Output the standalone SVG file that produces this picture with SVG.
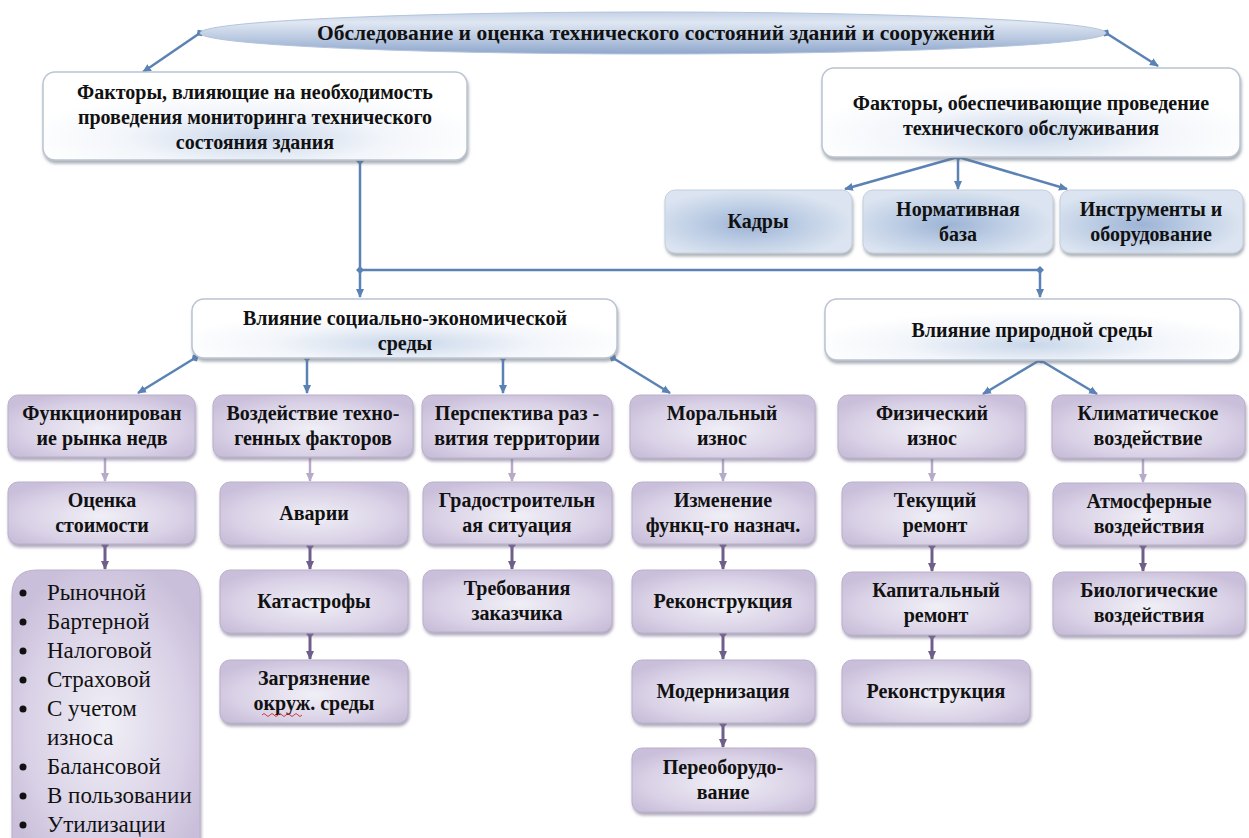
<svg xmlns="http://www.w3.org/2000/svg" width="1249" height="838" viewBox="0 0 1249 838">
<style>
  text{font-family:"Liberation Serif","Times New Roman",serif;font-weight:bold;font-size:20px;fill:#111;text-anchor:middle}
  .li{font-weight:normal;font-size:23px;text-anchor:start}
  .w{fill:url(#gw);stroke:#b9c3d2;stroke-width:1.5;filter:url(#sh)}
  .b{fill:url(#gb);stroke:#c4cfdd;stroke-width:1;filter:url(#sh)}
  .p{fill:url(#gp);stroke:#b9b0c9;stroke-width:1;filter:url(#shp)}
  .cb{fill:none;stroke:#5a82b4;stroke-width:2.5}
  .cl{fill:none;stroke:#b7aac9;stroke-width:2.5}
  .cd{fill:none;stroke:#6e5e8a;stroke-width:3}
</style>
<defs>
  <radialGradient id="gw" cx="0.5" cy="0.75" r="0.55">
    <stop offset="0" stop-color="#c9d7ea"/>
    <stop offset="0.55" stop-color="#f2f5fa"/>
    <stop offset="1" stop-color="#ffffff"/>
  </radialGradient>
  <radialGradient id="gb" cx="0.45" cy="0.55" r="0.55">
    <stop offset="0" stop-color="#9db4d6"/>
    <stop offset="0.6" stop-color="#c3d2e7"/>
    <stop offset="1" stop-color="#dbe4f0"/>
  </radialGradient>
  <radialGradient id="gp" cx="0.5" cy="0.55" r="0.6">
    <stop offset="0" stop-color="#f0eff6"/>
    <stop offset="0.7" stop-color="#d9d1e6"/>
    <stop offset="1" stop-color="#c9bfda"/>
  </radialGradient>
  <linearGradient id="ge" x1="0" y1="0" x2="0" y2="1">
    <stop offset="0" stop-color="#c4d2e6"/>
    <stop offset="0.25" stop-color="#dfe7f2"/>
    <stop offset="0.6" stop-color="#bccbe2"/>
    <stop offset="1" stop-color="#8fa7cc"/>
  </linearGradient>
  <filter id="sh" x="-10%" y="-20%" width="120%" height="150%">
    <feDropShadow dx="1" dy="3" stdDeviation="1.5" flood-color="#6b7280" flood-opacity="0.55"/>
  </filter>
  <filter id="shp" x="-10%" y="-20%" width="120%" height="150%">
    <feDropShadow dx="1" dy="3" stdDeviation="1.5" flood-color="#7a7190" flood-opacity="0.6"/>
  </filter>
  <marker id="ab" markerWidth="10" markerHeight="10" refX="8" refY="5" orient="auto" markerUnits="userSpaceOnUse">
    <path d="M0,1 L9,5 L0,9 z" fill="#5a82b4"/>
  </marker>
  <marker id="db" markerWidth="8" markerHeight="8" refX="4" refY="4" orient="auto" markerUnits="userSpaceOnUse">
    <path d="M0,4 L4,0 L8,4 L4,8 z" fill="#5a82b4"/>
  </marker>
  <marker id="al" markerWidth="10" markerHeight="10" refX="8" refY="5" orient="auto" markerUnits="userSpaceOnUse">
    <path d="M0,1 L9,5 L0,9 z" fill="#b7aac9"/>
  </marker>
  <marker id="ad" markerWidth="10" markerHeight="10" refX="8" refY="5" orient="auto" markerUnits="userSpaceOnUse">
    <path d="M0,1 L9,5 L0,9 z" fill="#6e5e8a"/>
  </marker>
  <marker id="dd" markerWidth="8" markerHeight="8" refX="4" refY="4" orient="auto" markerUnits="userSpaceOnUse">
    <path d="M0,4 L4,0 L8,4 L4,8 z" fill="#6e5e8a"/>
  </marker>
</defs>

<g id="connectors">
  <path class="cb" d="M200,33 L143,72" marker-start="url(#db)" marker-end="url(#ab)"/>
  <path class="cb" d="M1106,33 L1158,66" marker-start="url(#db)" marker-end="url(#ab)"/>
  <path class="cb" d="M958,157 L845,189" marker-start="url(#db)" marker-end="url(#ab)"/>
  <path class="cb" d="M958,157 L958,189" marker-end="url(#ab)"/>
  <path class="cb" d="M958,157 L1067,189" marker-end="url(#ab)"/>
  <path class="cb" d="M360,161 L360,270 L1040,270" marker-start="url(#db)"/>
  <path class="cb" d="M360,270 L360,297" marker-start="url(#db)" marker-end="url(#ab)"/>
  <path class="cb" d="M1040,270 L1040,297" marker-start="url(#db)" marker-end="url(#ab)"/>
  <path class="cb" d="M195,358 L138,393" marker-start="url(#db)" marker-end="url(#ab)"/>
  <path class="cb" d="M307,358 L307,393" marker-start="url(#db)" marker-end="url(#ab)"/>
  <path class="cb" d="M503,358 L503,393" marker-start="url(#db)" marker-end="url(#ab)"/>
  <path class="cb" d="M613,358 L670,393" marker-start="url(#db)" marker-end="url(#ab)"/>
  <path class="cb" d="M1040,360 L983,394" marker-start="url(#db)" marker-end="url(#ab)"/>
  <path class="cb" d="M1040,360 L1097,394" marker-end="url(#ab)"/>

  <path class="cl" d="M105,458 L105,481" marker-end="url(#al)"/>
  <path class="cl" d="M310,458 L310,481" marker-end="url(#al)"/>
  <path class="cl" d="M512,459 L512,481" marker-end="url(#al)"/>
  <path class="cl" d="M723,459 L723,481" marker-end="url(#al)"/>
  <path class="cl" d="M932,459 L932,481" marker-end="url(#al)"/>
  <path class="cl" d="M1143,459 L1143,482" marker-end="url(#al)"/>

  <path class="cd" d="M105,545 L105,569" marker-start="url(#dd)" marker-end="url(#ad)"/>
  <path class="cd" d="M310,546 L310,569" marker-start="url(#dd)" marker-end="url(#ad)"/>
  <path class="cd" d="M310,634 L310,659" marker-start="url(#dd)" marker-end="url(#ad)"/>
  <path class="cd" d="M512,545 L512,569" marker-start="url(#dd)" marker-end="url(#ad)"/>
  <path class="cd" d="M723,545 L723,569" marker-start="url(#dd)" marker-end="url(#ad)"/>
  <path class="cd" d="M723,634 L723,659" marker-start="url(#dd)" marker-end="url(#ad)"/>
  <path class="cd" d="M723,724 L723,747" marker-start="url(#dd)" marker-end="url(#ad)"/>
  <path class="cd" d="M932,546 L932,571" marker-start="url(#dd)" marker-end="url(#ad)"/>
  <path class="cd" d="M932,636 L932,659" marker-start="url(#dd)" marker-end="url(#ad)"/>
  <path class="cd" d="M1143,546 L1143,571" marker-start="url(#dd)" marker-end="url(#ad)"/>
</g>

<g id="title">
  <ellipse cx="653" cy="33" rx="453" ry="21" fill="url(#ge)" stroke="#b4c4dc" stroke-width="1"/>
  <text x="656" y="40" font-size="22" textLength="678" lengthAdjust="spacingAndGlyphs">Обследование и оценка технического состояний зданий и сооружений</text>
</g>

<g id="factors-monitoring">
  <rect class="w" x="43" y="72" width="424" height="88" rx="12"/>
  <text x="255" y="99">Факторы, влияющие на необходимость</text>
  <text x="255" y="124">проведения мониторинга технического</text>
  <text x="255" y="149">состояния здания</text>
</g>

<g id="factors-service">
  <rect class="w" x="822" y="68" width="418" height="89" rx="12"/>
  <text x="1031" y="110">Факторы, обеспечивающие проведение</text>
  <text x="1031" y="135">технического обслуживания</text>
</g>

<g id="kadry">
  <rect class="b" x="665" y="190" width="187" height="63" rx="10"/>
  <text x="758" y="228">Кадры</text>
</g>
<g id="norm-baza">
  <rect class="b" x="863" y="190" width="190" height="63" rx="10"/>
  <text x="958" y="216">Нормативная</text>
  <text x="958" y="241">база</text>
</g>
<g id="instrumenty">
  <rect class="b" x="1060" y="190" width="183" height="63" rx="10"/>
  <text x="1151" y="216">Инструменты и</text>
  <text x="1151" y="241">оборудование</text>
</g>

<g id="soc-econ">
  <rect class="w" x="192" y="299" width="425" height="59" rx="12"/>
  <text x="405" y="325">Влияние социально-экономической</text>
  <text x="405" y="350">среды</text>
</g>
<g id="nature">
  <rect class="w" x="825" y="299" width="415" height="61" rx="12"/>
  <text x="1032" y="337">Влияние природной среды</text>
</g>

<!-- column 1 -->
<g id="rynok">
  <rect class="p" x="8" y="395" width="187" height="62" rx="10"/>
  <text x="102" y="420">Функционирован</text>
  <text x="102" y="445">ие рынка недв</text>
</g>
<g id="ocenka">
  <rect class="p" x="8" y="482" width="187" height="62" rx="10"/>
  <text x="102" y="507">Оценка</text>
  <text x="102" y="532">стоимости</text>
</g>
<g id="list">
  <path class="p" d="M12,595 Q12,570 37,570 L175,570 Q200,570 200,595 L200,850 L12,850 Z"/>
  <circle cx="23" cy="593" r="3.5" fill="#111"/>
  <text class="li" x="47" y="600">Рыночной</text>
  <circle cx="23" cy="622" r="3.5" fill="#111"/>
  <text class="li" x="47" y="629">Бартерной</text>
  <circle cx="23" cy="651" r="3.5" fill="#111"/>
  <text class="li" x="47" y="658">Налоговой</text>
  <circle cx="23" cy="680" r="3.5" fill="#111"/>
  <text class="li" x="47" y="687">Страховой</text>
  <circle cx="23" cy="709" r="3.5" fill="#111"/>
  <text class="li" x="47" y="716">С учетом</text>
  <text class="li" x="47" y="745">износа</text>
  <circle cx="23" cy="767" r="3.5" fill="#111"/>
  <text class="li" x="47" y="774">Балансовой</text>
  <circle cx="23" cy="796" r="3.5" fill="#111"/>
  <text class="li" x="47" y="803">В пользовании</text>
  <circle cx="23" cy="825" r="3.5" fill="#111"/>
  <text class="li" x="47" y="832">Утилизации</text>
</g>

<!-- column 2 -->
<g id="tehnogen">
  <rect class="p" x="213" y="395" width="200" height="62" rx="10"/>
  <text x="313" y="420">Воздействие техно-</text>
  <text x="313" y="445">генных факторов</text>
</g>
<g id="avarii">
  <rect class="p" x="220" y="482" width="188" height="63" rx="10"/>
  <text x="314" y="520">Аварии</text>
</g>
<g id="katastrofy">
  <rect class="p" x="220" y="570" width="188" height="63" rx="10"/>
  <text x="314" y="608">Катастрофы</text>
</g>
<g id="zagryaznenie">
  <rect class="p" x="220" y="660" width="188" height="63" rx="10"/>
  <text x="314" y="685">Загрязнение</text>
  <text x="314" y="710">окруж. среды</text>
  <path d="M262,715 q2,-3 4,0 t4,0 t4,0 t4,0 t4,0 t4,0 t4,0 t4,0 t4,0 t4,0" fill="none" stroke="#d23a3a" stroke-width="1"/>
</g>

<!-- column 3 -->
<g id="perspektiva">
  <rect class="p" x="422" y="395" width="190" height="63" rx="10"/>
  <text x="517" y="420">Перспектива раз -</text>
  <text x="517" y="445">вития территории</text>
</g>
<g id="gradostr">
  <rect class="p" x="423" y="482" width="189" height="62" rx="10"/>
  <text x="517" y="507">Градостроительн</text>
  <text x="517" y="532">ая ситуация</text>
</g>
<g id="trebovaniya">
  <rect class="p" x="423" y="570" width="189" height="62" rx="10"/>
  <text x="517" y="595">Требования</text>
  <text x="517" y="620">заказчика</text>
</g>

<!-- column 4 -->
<g id="moralny">
  <rect class="p" x="630" y="395" width="185" height="63" rx="10"/>
  <text x="722" y="420">Моральный</text>
  <text x="722" y="445">износ</text>
</g>
<g id="izmenenie">
  <rect class="p" x="632" y="482" width="183" height="62" rx="10"/>
  <text x="723" y="507">Изменение</text>
  <text x="723" y="532">функц-го назнач.</text>
</g>
<g id="rekonstr1">
  <rect class="p" x="632" y="570" width="183" height="63" rx="10"/>
  <text x="723" y="608">Реконструкция</text>
</g>
<g id="modernizaciya">
  <rect class="p" x="632" y="660" width="183" height="63" rx="10"/>
  <text x="723" y="698">Модернизация</text>
</g>
<g id="pereoborud">
  <rect class="p" x="632" y="748" width="183" height="64" rx="10"/>
  <text x="723" y="774">Переоборудо-</text>
  <text x="723" y="799">вание</text>
</g>

<!-- column 5 -->
<g id="fizicheskiy">
  <rect class="p" x="838" y="395" width="187" height="63" rx="10"/>
  <text x="932" y="420">Физический</text>
  <text x="932" y="445">износ</text>
</g>
<g id="tekushiy">
  <rect class="p" x="842" y="482" width="186" height="63" rx="10"/>
  <text x="935" y="507">Текущий</text>
  <text x="935" y="532">ремонт</text>
</g>
<g id="kapitalny">
  <rect class="p" x="842" y="572" width="188" height="63" rx="10"/>
  <text x="936" y="597">Капитальный</text>
  <text x="936" y="622">ремонт</text>
</g>
<g id="rekonstr2">
  <rect class="p" x="842" y="660" width="188" height="63" rx="10"/>
  <text x="936" y="698">Реконструкция</text>
</g>

<!-- column 6 -->
<g id="klimat">
  <rect class="p" x="1052" y="395" width="193" height="63" rx="10"/>
  <text x="1148" y="420">Климатическое</text>
  <text x="1148" y="445">воздействие</text>
</g>
<g id="atmosfer">
  <rect class="p" x="1053" y="483" width="192" height="62" rx="10"/>
  <text x="1149" y="508">Атмосферные</text>
  <text x="1149" y="533">воздействия</text>
</g>
<g id="biolog">
  <rect class="p" x="1053" y="572" width="192" height="63" rx="10"/>
  <text x="1149" y="597">Биологические</text>
  <text x="1149" y="622">воздействия</text>
</g>
</svg>
